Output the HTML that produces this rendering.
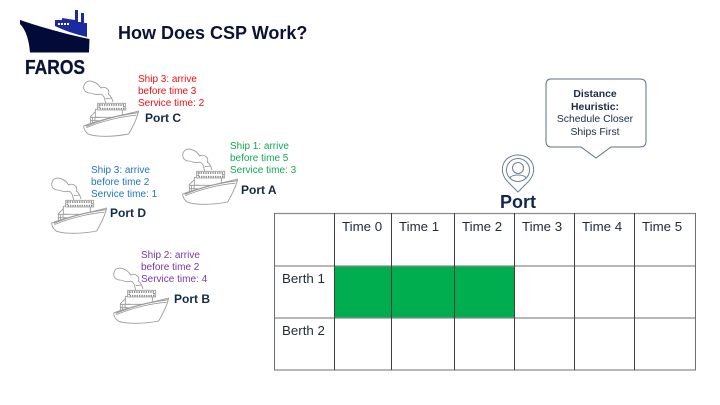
<!DOCTYPE html>
<html>
<head>
<meta charset="utf-8">
<style>
html,body{margin:0;padding:0;background:#fff;}
body{width:720px;height:405px;overflow:hidden;}
svg{display:block;}
text{font-family:"Liberation Sans",sans-serif;}
</style>
</head>
<body>
<svg width="720" height="405" viewBox="0 0 720 405" xmlns="http://www.w3.org/2000/svg">
<defs>
<g id="ship" fill="none" stroke="#9a9a9a" stroke-width="1" stroke-linejoin="round">
  <g transform="scale(.3333) translate(-248 -240)" stroke-width="2.6">
    <path d="M338 306C335 294 331 287 324 282C330 268 313 257 301 264C291 246 265 236 254 250C245 265 253 278 268 279C282 280 283 287 298 283C306 281 309 288 312 293L316 310"/>
    <path d="M316 296L335 294"/>
    <path d="M285 328H366V352H285Z" fill="#fff"/>
    <path d="M292 310H376V330H292Z" fill="#fff"/>
    <path d="M297 315H371V326H297Z" stroke-dasharray="4 3" stroke-width="5" stroke="#8a8a8a"/>
    <path d="M285 335L270 350V372M270 352H300M270 362H295M276 352V368M284 352V364" />
    <path d="M250 378C300 358 370 345 415 333C411 352 400 376 385 402C340 411 290 411 265 403C255 396 250 386 250 378Z" fill="#fff"/>
    <path d="M256 379C305 358 365 344 413 338" stroke-width="3.4"/>
    <path d="M258 383C305 363 365 349 408 346"/>
  </g>
</g>
</defs>
<rect width="720" height="405" fill="#fff"/>

<!-- Logo -->
<path d="M55 20H62V18L75 20V10H78V22H81V13H84V23H87V37C75 34 65 31 55 26Z" fill="#1b2a9e"/>
<g fill="#fff"><rect x="58" y="23" width="2" height="2"/><rect x="61" y="23" width="2" height="2"/><rect x="64" y="23" width="2" height="2"/><rect x="67" y="23" width="2" height="2"/></g>
<path d="M20 20C32 24 60 33 89.500 39L89 52.500H30C29 40 26 30 20 24Z" fill="#020a38"/>
<text x="25" y="74" font-size="20" font-weight="700" fill="#0b1438" stroke="#0b1438" stroke-width=".3" textLength="60" lengthAdjust="spacingAndGlyphs">FAROS</text>

<text x="118" y="39" font-size="18" font-weight="700" fill="#0a1235">How Does CSP Work?</text>

<!-- Ships -->
<use href="#ship" x="83" y="80"/>
<use href="#ship" x="182" y="148"/>
<use href="#ship" x="51" y="177"/>
<use href="#ship" x="113" y="267"/>

<g font-size="10" fill="#f01010">
  <text x="138" y="82">Ship 3: arrive</text>
  <text x="138" y="94">before time 3</text>
  <text x="138" y="106">Service time: 2</text>
</g>
<g font-size="10" fill="#12a854">
  <text x="230" y="149">Ship 1: arrive</text>
  <text x="230" y="161">before time 5</text>
  <text x="230" y="173">Service time: 3</text>
</g>
<g font-size="10" fill="#1f74c0">
  <text x="91" y="173">Ship 3: arrive</text>
  <text x="91" y="185">before time 2</text>
  <text x="91" y="197">Service time: 1</text>
</g>
<g font-size="10" fill="#7a35a8">
  <text x="141" y="258">Ship 2: arrive</text>
  <text x="141" y="270">before time 2</text>
  <text x="141" y="282">Service time: 4</text>
</g>

<g font-size="12" font-weight="700" fill="#14284a">
  <text x="145" y="122">Port C</text>
  <text x="241" y="194">Port A</text>
  <text x="110" y="217">Port D</text>
  <text x="174" y="303">Port B</text>
</g>

<!-- Callout -->
<path d="M551 79H640Q646 79 646 85V141Q646 147 640 147H611L596 158L581 147H551Q546 147 546 141V85Q546 79 551 79Z" fill="#fff" stroke="#5d7186" stroke-width="1"/>
<g font-size="10.400" fill="#1b2c44" text-anchor="middle">
  <text x="595" y="97" font-weight="700">Distance</text>
  <text x="595" y="110" font-weight="700">Heuristic:</text>
  <text x="595" y="122">Schedule Closer</text>
  <text x="595" y="135">Ships First</text>
</g>

<!-- Port pin -->
<g fill="none" stroke="#6b7f92" stroke-width="1">
  <path d="M518 192L508 182C497 171 503 155 518 155C533 155 539 171 528 182Z"/>
  <circle cx="518" cy="170" r="11.500"/>
  <circle cx="518" cy="168" r="5.500"/>
  <path d="M510 178C512 174 524 174 526 178"/>
</g>
<text x="518" y="208" font-size="18" font-weight="700" fill="#12284a" text-anchor="middle">Port</text>

<!-- Table -->
<rect x="334" y="266" width="181" height="52" fill="#00ad4f"/>
<g stroke="#8c8c8c" stroke-width="1.200">
  <path d="M274 213.500H696M274 266H696M274 318H696M274 370H696"/>
</g>
<g stroke="#3f3f3f" stroke-width="1">
  <path d="M334.500 213V370M391.500 213V370M454.500 213V370M514.500 213V370M574.500 213V370M634.500 213V370"/>
</g>
<g stroke="#6e6e6e" stroke-width="1">
  <path d="M274.500 213V370M695.500 213V370"/>
</g>
<g font-size="13.300" fill="#1f2b3c">
  <text x="342" y="231">Time 0</text>
  <text x="399" y="231">Time 1</text>
  <text x="462" y="231">Time 2</text>
  <text x="522" y="231">Time 3</text>
  <text x="582" y="231">Time 4</text>
  <text x="642" y="231">Time 5</text>
  <text x="282" y="283">Berth 1</text>
  <text x="282" y="335">Berth 2</text>
</g>
</svg>
</body>
</html>
